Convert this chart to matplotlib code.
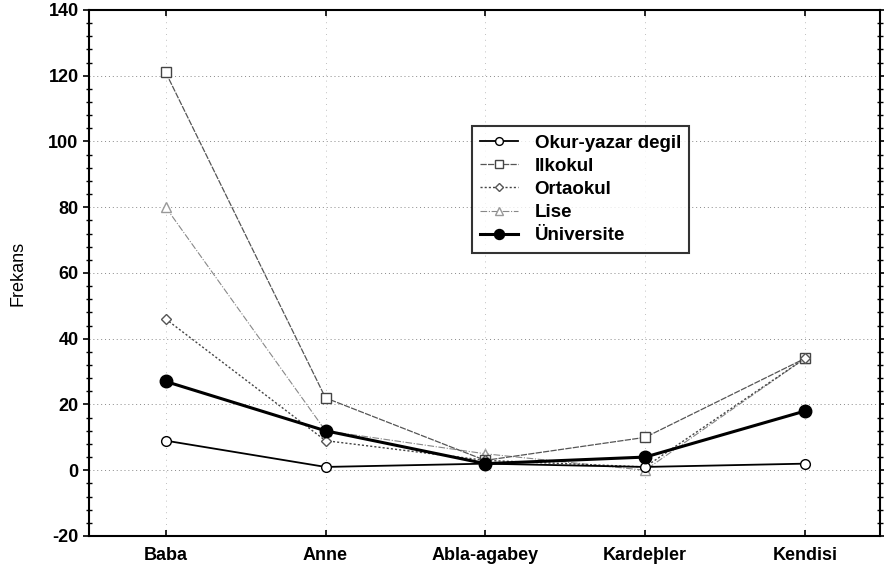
import numpy as np
import matplotlib.pyplot as plt
from matplotlib.ticker import MultipleLocator

plt.rcParams['font.family'] = ['Liberation Sans', 'DejaVu Sans']
plt.rcParams['axes.unicode_minus'] = False

categories = ['Baba', 'Anne', 'Abla-agabey', 'Kardeþler', 'Kendisi']
okur = [9, 1, 2, 1, 2]
ilkokul = [121, 22, 3, 10, 34]
ortaokul = [46, 9, 3, 1, 34]
lise = [80, 12, 5, 0, 34]
universite = [27, 12, 2, 4, 18]

x = np.arange(len(categories))

fig = plt.figure(figsize=(8.84, 5.73), dpi=100)
ax = fig.add_axes([0.1007, 0.0646, 0.8948, 0.918])

ax.plot(x, okur, color='black', lw=1.3, marker='o', ms=7, mfc='white', mec='black', label='Okur-yazar degil', zorder=5)
ax.plot(x, ilkokul, color='#555555', lw=0.9, ls=(0, (5, 1)), marker='s', ms=7, mfc='white', mec='#444444', label='Ilkokul', zorder=4)
ax.plot(x, ortaokul, color='#444444', lw=1.0, ls=(0, (1.5, 1.5)), marker='D', ms=5.5, mfc='white', mec='#555555', label='Ortaokul', zorder=4)
ax.plot(x, lise, color='#888888', lw=0.8, ls=(0, (6, 1.5, 1, 1.5)), marker='^', ms=7, mfc='white', mec='#999999', label='Lise', zorder=3)
ax.plot(x, universite, color='black', lw=2.2, marker='o', ms=9, mfc='black', mec='black', label='Üniversite', zorder=6)

ax.set_xlim(-0.48, 4.47)
ax.set_ylim(-20, 140)
ax.yaxis.set_major_locator(MultipleLocator(20))
ax.yaxis.set_minor_locator(MultipleLocator(4))
ax.set_xticks(x)
ax.set_xticklabels(categories, fontsize=13, fontweight='bold')
for lab in ax.get_yticklabels():
    lab.set_fontsize(13)
    lab.set_fontweight('bold')
ax.set_ylabel('Frekans', fontsize=13, labelpad=16)

ax.grid(True, which='major', axis='y', ls=(0, (1, 3)), color='#888888', lw=0.7)
ax.grid(True, which='major', axis='x', ls=(0, (1, 6)), color='#aaaaaa', lw=0.6)
ax.tick_params(axis='y', which='major', direction='out', length=4, width=1.2, right=True)
ax.tick_params(axis='y', which='minor', direction='inout', length=4, width=1, right=True)
ax.tick_params(axis='x', which='major', direction='in', length=4, width=1.2, top=True, pad=8)
for s in ax.spines.values():
    s.set_linewidth(1.5)

leg = ax.legend(loc='upper left', bbox_to_anchor=(0.484, 0.779), borderaxespad=0, fontsize=13.5,
                frameon=True, fancybox=False, edgecolor='black', handlelength=2.0, borderpad=0.45,
                labelspacing=0.32, handletextpad=0.9, markerscale=0.8)
leg.get_frame().set_linewidth(1.5)
for t in leg.get_texts():
    t.set_fontweight('bold')

fig.savefig('out.png', dpi=100)
